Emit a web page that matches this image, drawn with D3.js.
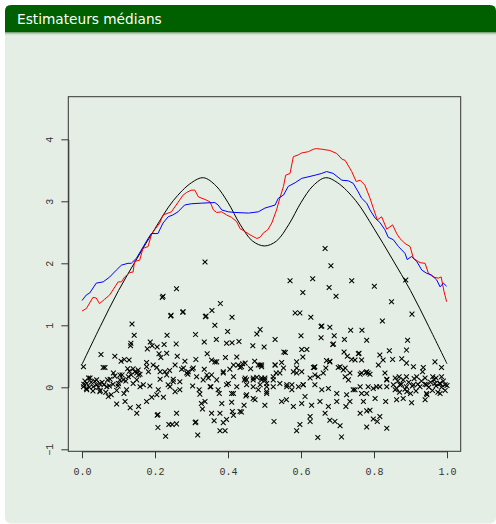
<!DOCTYPE html>
<html><head><meta charset="utf-8">
<script src="https://cdn.jsdelivr.net/npm/d3@7/dist/d3.min.js"></script>
<style>html,body{margin:0;padding:0;background:#fff;}svg{display:block;}</style>
</head><body>
<script>
// ---------- data ----------
const titleText = "Estimateurs médians";
const xTicks = [0, 0.2, 0.4, 0.6, 0.8, 1.0];
const yTicks = [-1, 0, 1, 2, 3, 4];

// true regression function (black)
const trueX = [0,0.05,0.1,0.15,0.2,0.25,0.3,0.333,0.367,0.4,0.433,0.467,0.5,0.533,0.567,0.6,0.633,0.667,0.7,0.75,0.8,0.85,0.9,0.95,1.0];
const trueY = [0.37,0.98,1.56,2.07,2.56,3.01,3.30,3.38,3.25,2.98,2.63,2.36,2.28,2.36,2.63,2.98,3.25,3.38,3.30,3.01,2.56,2.07,1.56,0.98,0.38];

// blue median estimator
const blueX = [0.000,0.012,0.021,0.039,0.058,0.076,0.094,0.108,0.126,0.135,0.149,0.162,0.181,0.190,0.208,0.222,0.236,0.249,0.263,0.281,0.299,0.327,0.364,0.373,0.383,0.401,0.419,0.456,0.483,0.501,0.529,0.538,0.552,0.565,0.584,0.602,0.638,0.657,0.670,0.688,0.712,0.730,0.743,0.757,0.766,0.780,0.789,0.803,0.816,0.830,0.839,0.853,0.867,0.885,0.891,0.903,0.917,0.931,0.944,0.958,0.972,0.981,0.990,0.999];
const blueY = [1.40,1.49,1.52,1.68,1.70,1.78,1.89,1.97,2.00,2.00,2.08,2.21,2.40,2.48,2.48,2.65,2.75,2.78,2.83,2.94,2.96,2.97,2.98,2.94,2.86,2.83,2.82,2.81,2.83,2.89,2.94,3.05,3.10,3.24,3.30,3.37,3.42,3.45,3.48,3.45,3.34,3.33,3.29,3.15,3.05,2.97,2.86,2.73,2.66,2.54,2.42,2.38,2.27,2.16,2.06,2.11,2.03,1.89,1.84,1.81,1.73,1.62,1.68,1.63];

// red median estimator
const redX = [0.000,0.012,0.030,0.039,0.048,0.062,0.076,0.099,0.108,0.117,0.131,0.140,0.144,0.158,0.167,0.181,0.190,0.199,0.213,0.222,0.236,0.245,0.258,0.277,0.286,0.299,0.309,0.319,0.337,0.351,0.360,0.369,0.383,0.396,0.410,0.424,0.433,0.447,0.460,0.479,0.488,0.497,0.509,0.520,0.533,0.542,0.552,0.558,0.570,0.579,0.593,0.602,0.620,0.634,0.643,0.657,0.679,0.698,0.712,0.721,0.739,0.751,0.762,0.775,0.789,0.798,0.809,0.821,0.835,0.851,0.862,0.871,0.885,0.899,0.908,0.926,0.940,0.949,0.962,0.976,0.984,0.992,0.999];
const redY = [1.23,1.27,1.45,1.44,1.35,1.42,1.49,1.70,1.70,1.78,1.85,1.86,2.03,2.05,2.24,2.27,2.46,2.54,2.65,2.78,2.81,2.83,2.94,3.10,3.14,3.18,3.18,3.07,3.03,2.99,2.86,2.82,2.83,2.78,2.74,2.67,2.56,2.51,2.46,2.40,2.42,2.49,2.54,2.65,2.86,3.05,3.24,3.42,3.45,3.72,3.75,3.78,3.80,3.84,3.85,3.84,3.82,3.77,3.68,3.66,3.48,3.32,3.34,3.26,3.05,2.89,2.70,2.75,2.55,2.62,2.48,2.40,2.32,2.27,2.08,2.01,2.00,1.84,1.78,1.76,1.78,1.54,1.38];

// observations (x, y)
const obs = [
[0.337,2.02],[0.259,1.59],[0.220,1.45],[0.222,1.47],[0.379,1.35],[0.356,1.24],[0.244,1.16],[0.276,1.21],[0.340,1.15],[0.411,1.13],
[0.137,1.02],[0.364,1.00],[0.143,0.84],[0.233,0.84],[0.311,0.85],[0.399,0.90],[0.479,0.86],[0.368,0.77],[0.335,0.73],[0.187,0.73],
[0.134,0.71],[0.133,0.67],[0.225,0.69],[0.258,0.70],[0.396,0.71],[0.411,0.72],[0.430,0.74],[0.468,0.67],[0.179,0.62],[0.206,0.65],
[0.192,0.67],[0.052,0.53],[0.090,0.50],[0.116,0.45],[0.177,0.40],[0.211,0.54],[0.232,0.55],[0.216,0.48],[0.261,0.50],[0.255,0.36],
[0.282,0.42],[0.312,0.45],[0.343,0.54],[0.355,0.44],[0.364,0.41],[0.393,0.48],[0.424,0.49],[0.440,0.38],[0.473,0.42],
[0.666,2.24],[0.682,1.96],[0.570,1.72],[0.632,1.75],[0.739,1.72],[0.801,1.63],[0.677,1.61],[0.605,1.53],[0.696,1.47],[0.887,1.73],
[0.848,1.38],[0.904,1.18],[0.823,1.07],[0.584,1.20],[0.597,1.20],[0.627,1.13],[0.655,0.98],[0.657,0.99],[0.679,0.97],[0.736,0.92],
[0.767,0.92],[0.488,0.93],[0.529,0.77],[0.600,0.83],[0.655,0.80],[0.691,0.83],[0.719,0.77],[0.780,0.76],[0.892,0.76],[0.687,0.69],
[0.689,0.70],[0.499,0.65],[0.553,0.57],[0.557,0.56],[0.602,0.61],[0.616,0.61],[0.605,0.49],[0.588,0.41],[0.670,0.43],[0.718,0.57],
[0.727,0.50],[0.748,0.44],[0.757,0.54],[0.759,0.55],[0.766,0.44],[0.816,0.52],[0.842,0.59],[0.889,0.60],[0.825,0.44],[0.851,0.45],
[0.876,0.46],[0.889,0.39],[0.908,0.33],[0.935,0.32],[0.967,0.41],[0.985,0.32],
[0.004,0.33],[0.063,0.32],[0.058,0.32],[0.107,0.42],[0.129,0.44],[0.130,0.26],[0.154,0.28],[0.159,0.21],[0.182,0.25],[0.205,0.32],
[0.227,0.25],[0.240,0.27],[0.273,0.29],[0.302,0.29],[0.335,0.29],[0.355,0.20],[0.387,0.25],[0.405,0.29],[0.433,0.32],[0.462,0.30],
[0.479,0.16],[0.447,0.15],[0.415,0.17],[0.369,0.12],[0.332,0.12],[0.290,0.21],[0.250,0.13],[0.214,0.13],[0.186,0.02],[0.150,0.12],
[0.127,0.17],[0.104,0.12],[0.077,0.13],[0.049,0.06],[0.022,0.15],[0.013,0.06],[0.031,0.01],[0.004,0.01],[0.068,0.01],[0.099,0.02],
[0.122,-0.04],[0.159,0.01],[0.209,-0.04],[0.241,0.01],[0.268,-0.04],[0.303,0.02],[0.321,-0.04],[0.353,0.01],[0.373,-0.04],[0.396,0.04],
[0.410,-0.10],[0.445,0.12],[0.451,0.04],[0.469,0.01],[0.483,-0.04],
[0.177,0.33],[0.195,0.36],[0.214,0.25],[0.232,0.20],[0.278,0.31],[0.291,0.25],[0.305,0.31],[0.342,0.20],[0.369,0.41],[0.387,0.23],
[0.415,0.36],[0.428,0.36],[0.447,0.39],[0.483,0.36],[0.492,0.33],[0.086,0.23],[0.113,0.12],[0.140,0.06],[0.168,0.04],[0.236,0.04],
[0.250,0.09],[0.268,0.09],[0.287,0.23],[0.314,0.17],[0.346,0.15],[0.351,0.01],[0.424,0.01],[0.469,0.12],[0.488,0.04],[0.506,0.01],
[0.501,0.15],[0.150,0.23],[0.145,0.25],[0.155,0.20],[0.104,0.20],
[0.005,0.05],[0.008,0.10],[0.012,-0.02],[0.018,0.15],[0.020,0.00],[0.025,0.08],[0.030,-0.06],[0.035,0.10],[0.040,0.12],[0.045,0.00],
[0.050,-0.05],[0.055,0.08],[0.060,0.04],[0.065,-0.08],[0.070,0.12],[0.075,0.02],[0.080,-0.12],[0.085,0.05],[0.090,0.18],[0.095,-0.05],
[0.100,0.06],[0.110,0.20],[0.115,-0.10],[0.120,0.10],[0.125,0.30],[0.135,0.20],[0.140,0.30],
[0.013,-0.04],[0.040,0.04],[0.049,-0.07],[0.072,-0.15],[0.095,-0.27],[0.118,-0.23],[0.132,-0.33],[0.150,-0.42],[0.155,-0.31],[0.177,-0.23],
[0.191,-0.16],[0.205,-0.12],[0.223,-0.16],[0.206,-0.45],[0.208,-0.44],[0.208,-0.65],[0.229,-0.79],[0.238,-0.60],[0.247,-0.60],[0.259,-0.59],
[0.259,-0.42],[0.255,-0.07],[0.310,-0.57],[0.312,-0.56],[0.317,-0.77],[0.323,-0.11],[0.327,-0.26],[0.337,-0.23],[0.330,-0.35],[0.355,-0.42],
[0.362,-0.54],[0.376,-0.10],[0.383,-0.26],[0.378,-0.42],[0.387,-0.57],[0.378,-0.70],[0.392,-0.70],[0.396,-0.52],[0.401,0.06],[0.415,-0.10],
[0.410,-0.24],[0.412,-0.39],[0.415,-0.45],[0.433,-0.39],[0.437,-0.40],[0.449,-0.14],[0.444,-0.29],[0.469,-0.18],[0.501,-0.29],[0.506,-0.10],
[0.451,-0.12],[0.474,-0.20],[0.526,-0.55],[0.524,0.12],[0.547,-0.23],[0.560,-0.20],[0.579,-0.31],[0.588,-0.70],[0.597,-0.60],[0.602,-0.26],
[0.611,-0.15],[0.625,-0.47],[0.625,-0.55],[0.629,-0.29],[0.646,-0.81],[0.652,-0.23],[0.666,-0.42],[0.675,-0.31],[0.679,-0.53],[0.693,-0.55],
[0.707,-0.62],[0.711,-0.80],[0.698,-0.23],[0.723,-0.31],[0.734,-0.23],[0.748,-0.04],[0.762,-0.42],[0.771,-0.23],[0.780,-0.38],[0.789,-0.37],
[0.780,-0.64],[0.798,-0.51],[0.809,-0.55],[0.816,-0.47],[0.835,-0.66],[0.803,-0.18],[0.832,-0.23],[0.862,-0.20],[0.880,-0.18],[0.903,-0.25],
[0.940,-0.20],[0.981,-0.10],[0.766,-0.10],[0.944,-0.10],[0.862,-0.02],[0.890,-0.07],
[0.492,0.36],[0.529,0.36],[0.547,0.40],[0.588,0.31],[0.636,0.32],[0.638,0.33],[0.679,0.42],[0.707,0.33],[0.721,0.31],[0.739,0.45],
[0.762,0.21],[0.778,0.24],[0.780,0.25],[0.789,0.21],[0.812,0.36],[0.830,0.23],[0.835,0.13],[0.858,0.15],[0.869,0.17],[0.889,0.17],
[0.917,0.17],[0.933,0.25],[0.940,0.15],[0.961,0.17],[0.985,0.17],[0.981,0.06],[0.995,0.04],[0.967,0.06],[0.944,0.04],[0.926,0.01],
[0.908,0.04],[0.889,0.01],[0.871,0.04],[0.858,-0.04],[0.835,0.01],[0.816,0.01],[0.798,-0.02],[0.780,-0.10],[0.762,0.01],[0.743,-0.04],
[0.725,-0.12],[0.698,-0.10],[0.675,-0.02],[0.657,-0.04],[0.638,0.04],[0.625,0.15],[0.606,0.04],[0.593,0.01],[0.575,-0.04],[0.561,0.01],
[0.542,0.06],[0.524,0.01],[0.506,0.06],[0.492,0.15],[0.638,0.20],[0.668,0.31],[0.734,0.23],[0.702,0.32],[0.721,0.17],[0.579,0.25],
[0.542,0.23],[0.524,0.17],
[0.437,0.33],[0.488,0.36],[0.451,0.12],[0.469,0.15],[0.492,0.12],[0.501,0.12],[0.506,-0.07],[0.529,0.36],[0.532,0.23],[0.552,0.31],
[0.561,0.04],[0.575,0.04],[0.588,0.23],[0.602,0.25],[0.606,0.04],[0.634,0.32],[0.647,0.17],[0.661,0.23],[0.679,0.41],[0.716,0.28],
[0.730,0.12],[0.766,0.23],[0.784,0.23],[0.784,0.01],[0.807,0.01],[0.835,0.12],[0.853,0.04],
[0.930,0.10],[0.940,0.05],[0.950,0.00],[0.955,0.08],[0.960,-0.05],[0.965,0.12],[0.970,0.02],[0.975,-0.08],[0.980,0.06],[0.985,0.00],
[0.990,0.10],[0.995,-0.05],[1.000,0.03],[0.970,0.15],[0.945,-0.12],[0.865,0.10],[0.870,-0.08],[0.875,0.05],[0.880,0.12],[0.885,-0.03],
[0.895,0.08],[0.900,-0.10],[0.905,0.02],[0.910,0.14],[0.915,-0.06],[0.920,0.05],
[0.243,1.15],[0.277,1.22],[0.338,1.14]
];

// ---------- drawing ----------
const W = 496, H = 524;
const svg = d3.select("body").append("svg").attr("width", W).attr("height", H);

// beamer block
const bx = 5, by = 5, bw = 491, bh = 518.5, r = 6, barH = 27;
svg.append("rect").attr("x", bx).attr("y", by).attr("width", bw).attr("height", bh)
  .attr("rx", r).attr("fill", "#e4eee4");
svg.append("path")
  .attr("d", `M${bx},${by+barH} V${by+r} Q${bx},${by} ${bx+r},${by} H${bx+bw-r} Q${bx+bw},${by} ${bx+bw},${by+r} V${by+barH} Z`)
  .attr("fill", "#006000");
const defs = svg.append("defs");
const g1 = defs.append("linearGradient").attr("id","sh").attr("x1",0).attr("y1",0).attr("x2",0).attr("y2",1);
g1.append("stop").attr("offset","0%").attr("stop-color","#3f7a3f").attr("stop-opacity",0.8);
g1.append("stop").attr("offset","100%").attr("stop-color","#e4eee4").attr("stop-opacity",0);
svg.append("rect").attr("x", bx).attr("y", by+barH).attr("width", bw).attr("height", 4).attr("fill","url(#sh)");
svg.append("text").attr("x", 17).attr("y", 24).text(titleText)
  .attr("fill", "#fff").attr("font-family", "DejaVu Sans, sans-serif").attr("font-size", 13.7);

// scales
const x = d3.scaleLinear().domain([0, 1]).range([82, 447]);
const y = d3.scaleLinear().domain([0, 4]).range([387.3, 139.3]);
const box = {x0: 68.3, x1: 460.7, y0: 96.7, y1: 451.3};

// axes
const xAxis = svg.append("g").attr("transform", `translate(0,${box.y1})`)
  .call(d3.axisBottom(x).tickValues(xTicks).tickFormat(d3.format(".1f")).tickSize(7).tickSizeOuter(0));
xAxis.selectAll("text").attr("y", 24).attr("dy", 0)
  .attr("font-family", "Liberation Mono, monospace").attr("font-size", 10).attr("fill", "#333");
const yAxis = svg.append("g").attr("transform", `translate(${box.x0},0)`)
  .call(d3.axisLeft(y).tickValues(yTicks).tickFormat(d => d < 0 ? "\u2212" + Math.abs(d) : d).tickSize(7).tickSizeOuter(0));
yAxis.selectAll("text").attr("x", 0).attr("dy", 0).attr("text-anchor", "middle")
  .attr("transform", "translate(-15,0) rotate(-90)")
  .attr("font-family", "Liberation Mono, monospace").attr("font-size", 10).attr("fill", "#333");
svg.selectAll(".domain, .tick line").attr("stroke", "#222").attr("stroke-width", 0.9);

// plot box
svg.append("rect").attr("x", box.x0).attr("y", box.y0).attr("width", box.x1 - box.x0).attr("height", box.y1 - box.y0)
  .attr("fill", "none").attr("stroke", "#333").attr("stroke-width", 1);

// points
svg.append("g").selectAll("path").data(obs).join("path")
  .attr("transform", d => `translate(${x(d[0])},${y(d[1])})`)
  .attr("d", "M-2.4,-2.4L2.4,2.4M-2.4,2.4L2.4,-2.4")
  .attr("stroke", "#000").attr("stroke-width", 1.05).attr("fill", "none");

// curves
const lineOf = (xs, ys, curve) => d3.line().x((d, i) => x(xs[i])).y((d, i) => y(ys[i])).curve(curve)(xs);
svg.append("path").attr("d", lineOf(trueX, trueY, d3.curveCatmullRom.alpha(0.5)))
  .attr("fill", "none").attr("stroke", "#000").attr("stroke-width", 1);
svg.append("path").attr("d", lineOf(redX, redY, d3.curveLinear))
  .attr("fill", "none").attr("stroke", "#ff0000").attr("stroke-width", 1);
svg.append("path").attr("d", lineOf(blueX, blueY, d3.curveLinear))
  .attr("fill", "none").attr("stroke", "#0000ff").attr("stroke-width", 1);
</script>
</body></html>
